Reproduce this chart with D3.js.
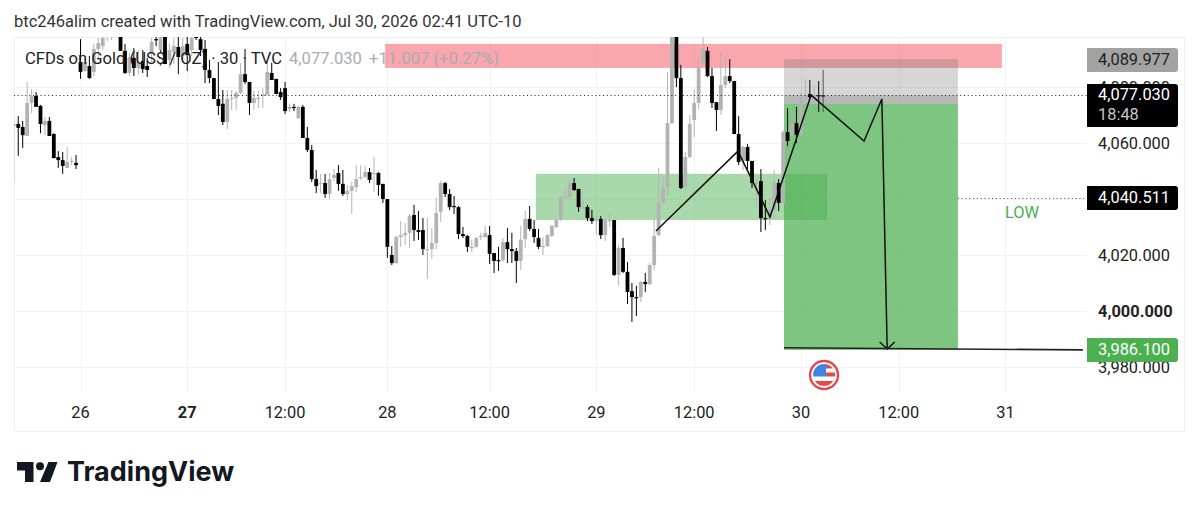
<!DOCTYPE html>
<html>
<head>
<meta charset="utf-8">
<script src="https://cdn.jsdelivr.net/npm/d3@7"></script>
<style>
	html, body { margin: 0; padding: 0; background: #fff; }
	svg { display: block; }
	text { font-family: Roboto, sans-serif; }
</style>
</head>
<body>
<div id="chart"></div>
<script>
var svgWidth = 1199;
var svgHeight = 514;

// Barras de 30 minutos
var barOpen = [
	4066.1,4066.8,4065.7,4062.5,4074.3,4076.8,4073.3,4066.4,4067.9,4063.2,4055.0,4053.9,4051.1,4053.2,4052.9,
	4088.9,4085.7,4087.5,4085.4,4093.6,4094.6,4099.6,4098.6,4099.3,4099.6,4092.9,4085.0,4090.4,4086.8,4089.3,
	4087.5,4091.8,4097.1,4093.2,4097.9,4089.6,4092.5,4094.3,4091.1,4095.4,4093.2,4098.2,4097.1,4093.6,4086.1,
	4083.2,4075.7,4074.0,4067.5,4075.7,4076.1,4077.9,4084.6,4081.8,4074.3,4075.7,4076.8,4077.1,4085.0,4082.9,
	4078.2,4079.6,4072.1,4072.9,4068.9,4072.9,4061.8,4057.5,4047.1,4045.4,4045.7,4041.8,4047.5,4049.3,4045.4,
	4041.8,4042.9,4044.3,4047.5,4047.9,4049.6,4049.0,4049.3,4045.4,4040.0,4020.0,4017.1,4026.4,4027.1,4027.9,
	4034.3,4028.9,4028.9,4021.8,4022.1,4024.3,4035.4,4045.7,4041.8,4037.5,4037.1,4027.5,4026.8,4022.5,4022.9,
	4026.4,4026.4,4027.1,4020.7,4018.2,4018.2,4024.6,4022.1,4021.4,4017.9,4025.7,4032.9,4029.3,4026.1,4022.9,
	4023.2,4026.8,4030.0,4032.9,4040.7,4040.7,4045.7,4043.6,4036.8,4037.1,4033.2,4032.1,4032.9,4027.1,4032.1,
	4032.5,4012.9,4022.5,4014.0,4007.1,4005.0,4005.0,4010.4,4009.6,4016.4,4027.1,4038.6,4044.3,4067.1,4100.4,
	4083.2,4044.3,4055.0,4068.2,4074.3,4088.6,4092.9,4083.9,4074.6,4071.8,4080.7,4083.9,4082.1,4063.2,4053.6,
	4058.6,4053.6,4045.4,4046.4,4033.2,4033.2,4036.1,4045.7,4038.6,4063.9,4063.2,4067.1,4062.9,4076.1,4077.5,
	4076.4,4077.1,4076.8
];
var barHigh = [
	4068.9,4069.6,4067.9,4081.8,4079.3,4078.2,4073.6,4069.3,4069.3,4063.5,4057.1,4056.8,4058.6,4055.0,4055.7,
	4097.1,4090.4,4091.1,4095.4,4097.5,4098.2,4102.1,4102.1,4102.1,4100.4,4095.4,4092.1,4093.9,4093.2,4093.2,
	4090.4,4097.5,4098.9,4098.9,4098.9,4095.4,4097.5,4098.2,4097.5,4098.2,4099.6,4098.9,4098.2,4096.8,4089.6,
	4083.2,4088.9,4078.9,4078.9,4078.9,4078.6,4088.6,4093.6,4081.8,4078.6,4078.9,4079.6,4088.9,4088.6,4082.9,
	4079.6,4081.8,4074.0,4074.0,4073.2,4073.6,4065.7,4059.3,4050.4,4048.9,4048.9,4049.3,4050.7,4052.1,4050.4,
	4045.0,4046.1,4052.1,4052.1,4051.8,4051.1,4055.0,4049.6,4045.4,4040.0,4023.2,4026.8,4032.1,4031.4,4034.6,
	4037.9,4035.7,4033.2,4033.2,4029.6,4040.4,4046.4,4046.1,4043.6,4041.1,4037.5,4030.0,4027.1,4025.4,4026.4,
	4027.9,4030.4,4030.4,4020.7,4022.9,4026.1,4029.6,4027.9,4022.5,4030.4,4035.7,4037.5,4032.5,4029.3,4026.4,
	4027.5,4030.7,4032.9,4041.1,4044.3,4047.1,4047.5,4043.6,4039.6,4037.9,4036.1,4033.9,4033.9,4032.9,4035.7,
	4032.5,4023.6,4026.1,4017.5,4010.0,4009.0,4010.7,4013.6,4017.1,4032.5,4051.1,4047.9,4085.4,4102.1,4102.1,
	4087.9,4056.8,4070.0,4078.9,4090.4,4097.9,4094.3,4086.8,4074.6,4092.5,4090.4,4090.0,4082.1,4069.6,4059.0,
	4059.6,4053.6,4047.5,4050.7,4039.6,4040.4,4050.4,4047.1,4064.6,4072.5,4071.8,4072.9,4078.2,4082.9,4082.5,
	4080.7,4082.1,4086.1
];
var barLow = [
	4046.1,4055.4,4058.2,4062.5,4070.7,4072.9,4063.5,4062.8,4062.5,4054.6,4051.1,4049.0,4051.1,4052.1,4050.7,
	4082.9,4085.4,4082.9,4083.9,4089.6,4093.2,4096.4,4096.8,4098.2,4092.9,4084.6,4083.9,4083.9,4084.6,4085.0,
	4083.6,4088.9,4094.6,4091.8,4088.2,4086.8,4088.2,4084.6,4088.9,4085.7,4091.1,4096.8,4091.1,4081.4,4081.4,
	4075.7,4070.0,4066.4,4065.0,4071.8,4071.8,4077.5,4081.1,4070.0,4071.8,4072.5,4072.5,4077.1,4082.5,4077.5,
	4075.4,4070.4,4071.1,4071.4,4068.6,4061.8,4056.8,4046.1,4042.1,4042.1,4040.4,4040.0,4046.4,4042.9,4041.1,
	4039.6,4034.6,4042.5,4046.8,4047.5,4045.7,4042.5,4041.1,4038.6,4019.0,4016.4,4016.8,4022.9,4023.6,4022.5,
	4025.0,4025.4,4020.0,4011.4,4018.6,4022.1,4031.8,4040.7,4036.1,4034.6,4025.7,4026.1,4021.1,4021.1,4022.5,
	4025.4,4026.1,4016.8,4013.6,4014.3,4017.5,4017.1,4017.1,4010.0,4014.6,4022.5,4028.6,4024.3,4022.1,4020.0,
	4022.9,4026.4,4029.6,4032.1,4040.0,4040.4,4042.9,4035.4,4036.4,4032.1,4031.1,4027.1,4025.7,4025.0,4030.0,
	4012.5,4009.0,4013.6,4002.5,3996.1,3998.2,4003.2,4006.8,4009.3,4014.6,4026.8,4037.9,4041.4,4066.8,4080.0,
	4043.6,4043.2,4054.6,4062.1,4072.1,4088.2,4083.6,4072.5,4064.3,4070.0,4079.6,4081.4,4063.2,4052.1,4050.4,
	4050.7,4043.9,4037.1,4028.2,4028.9,4030.7,4033.2,4035.7,4038.2,4058.9,4062.5,4060.0,4062.5,4075.4,4076.1,
	4074.3,4071.1,4071.1
];
var barClose = [
	4066.8,4065.4,4062.8,4074.3,4076.8,4072.9,4066.8,4067.9,4062.5,4054.6,4053.9,4051.8,4053.2,4053.6,4052.1,
	4085.4,4088.9,4083.2,4093.6,4095.7,4097.5,4100.4,4100.4,4101.1,4092.9,4085.0,4090.7,4086.8,4088.9,4086.4,
	4086.1,4096.1,4096.8,4097.9,4088.2,4093.2,4094.6,4090.7,4094.6,4091.4,4097.5,4097.5,4093.2,4086.1,4083.2,
	4075.7,4073.2,4067.5,4075.7,4076.1,4077.9,4084.6,4081.8,4074.3,4076.1,4076.1,4077.5,4085.4,4082.5,4077.5,
	4076.4,4071.4,4072.9,4072.5,4072.9,4061.8,4057.5,4047.1,4044.6,4045.7,4041.8,4047.1,4048.6,4045.4,4041.8,
	4042.9,4044.6,4047.1,4047.9,4049.6,4046.8,4049.3,4045.0,4040.0,4022.9,4017.1,4026.4,4027.1,4027.9,4033.9,
	4028.9,4028.2,4022.1,4022.1,4024.3,4035.0,4045.7,4041.8,4037.1,4037.1,4027.5,4026.8,4022.9,4022.9,4026.1,
	4026.8,4027.9,4020.4,4017.9,4017.9,4024.6,4022.1,4021.4,4017.9,4025.4,4032.9,4029.3,4026.4,4022.9,4023.2,
	4027.1,4030.4,4032.5,4040.7,4041.1,4045.7,4043.2,4037.1,4037.1,4033.2,4032.1,4032.5,4027.1,4032.5,4032.5,
	4012.9,4022.5,4014.0,4006.8,4005.0,4004.6,4010.4,4009.6,4016.4,4026.8,4038.6,4043.9,4067.1,4100.4,4083.2,
	4043.9,4055.0,4066.8,4074.3,4087.1,4093.6,4083.9,4074.3,4071.8,4080.7,4083.9,4082.1,4063.2,4053.2,4058.6,
	4053.6,4045.7,4045.7,4033.2,4032.9,4036.1,4045.7,4038.6,4063.9,4060.7,4067.1,4062.9,4076.1,4077.1,4076.4,
	4076.8,4076.8,4077.03
];

// Ejes
var gridPrices = [4080, 4060, 4040, 4020, 4000, 3980];
var priceTicks = [4080, 4060, 4020, 4000, 3980];
var timeTickBars = [15, 39, 61, 84, 107, 131, 153, 177, 199, 223];
var timeTickLabels = ["26", "27", "12:00", "28", "12:00", "29", "12:00", "30", "12:00", "31"];

// Etiquetas de precio
var currentPrice = 4077.03;
var stopPrice = 4089.977;
var lowPrice = 4040.511;
var targetPrice = 3986.1;
var entryPrice = 4074.1;

// Dibujos sobre el grafico (barra, precio)
var redZoneBars = [83.5, 222.2];
var redZonePrices = [4095.4, 4086.8];
var greenZoneBars = [117.4, 182.9];
var greenZonePrices = [4049.0, 4032.5];
var positionBars = [173.2, 212.3];
var pathBars = [144.4, 162.85, 170.05, 179.3, 191.2, 195.2, 196.4];
var pathPrices = [4028.6, 4057.1, 4033.6, 4077.1, 4060.7, 4075.7, 3986.4];
var targetLineBars = [173.2, 240.4];
var targetLinePrices = [3986.9, 3986.1];
var eventBar = 182.2;

// Escalas
var x = d3.scaleLinear().domain([0, 100]).range([13.8, 458.5]);
var y = d3.scaleLinear().domain([3980, 4060]).range([367, 143]);

var formatPrice = d3.format(",.3f");

var svg = d3.select("#chart").append("svg")
	.attr("width", svgWidth)
	.attr("height", svgHeight);

svg.append("defs").append("clipPath").attr("id", "plot")
	.append("rect").attr("x", 14).attr("y", 37).attr("width", 1073).attr("height", 355);

svg.append("text").attr("x", 14).attr("y", 27)
	.attr("font-size", 16.5).attr("fill", "#333")
	.text("btc246alim created with TradingView.com, Jul 30, 2026 02:41 UTC-10");

// Marco
svg.append("rect").attr("x", 14.5).attr("y", 37.5).attr("width", 1170).attr("height", 394)
	.attr("fill", "none").attr("stroke", "#eeeff2");

// Grilla
svg.selectAll(".grid-h").data(gridPrices).enter().append("line")
	.attr("x1", 14).attr("x2", 1087)
	.attr("y1", function(d) { return Math.round(y(d)) + 0.5; })
	.attr("y2", function(d) { return Math.round(y(d)) + 0.5; })
	.attr("stroke", "#f1f2f5");
svg.selectAll(".grid-v").data(timeTickBars).enter().append("line")
	.attr("y1", 37).attr("y2", 392)
	.attr("x1", function(d) { return Math.round(x(d)) + 0.5; })
	.attr("x2", function(d) { return Math.round(x(d)) + 0.5; })
	.attr("stroke", "#f1f2f5");

var plot = svg.append("g").attr("clip-path", "url(#plot)");

// Zonas
function zona(bars, prices, color) {
	plot.append("rect")
		.attr("x", x(bars[0]))
		.attr("width", x(bars[1]) - x(bars[0]))
		.attr("y", y(prices[0]))
		.attr("height", y(prices[1]) - y(prices[0]))
		.attr("fill", color);
}
zona(redZoneBars, redZonePrices, "rgba(242,54,69,0.44)");
zona(greenZoneBars, greenZonePrices, "rgba(76,175,80,0.48)");
zona(positionBars, [stopPrice, entryPrice], "rgba(120,120,120,0.3)");
zona(positionBars, [entryPrice, targetPrice], "rgba(76,175,80,0.72)");
zona(positionBars, [currentPrice, entryPrice], "rgba(120,120,120,0.32)");

// Velas
var indices = d3.range(barOpen.length);
function colorVela(i) { return barClose[i] >= barOpen[i] ? "#b3b3b3" : "#000"; }

plot.selectAll(".wick").data(indices).enter().append("line")
	.attr("x1", function(i) { return x(i); })
	.attr("x2", function(i) { return x(i); })
	.attr("y1", function(i) { return y(barHigh[i]); })
	.attr("y2", function(i) { return y(barLow[i]); })
	.attr("stroke", function(i) { return i == barOpen.length - 1 ? "#555" : colorVela(i); })
	.attr("stroke-width", 1);

plot.selectAll(".body").data(indices).enter().append("rect")
	.attr("x", function(i) { return x(i) - 1.9; })
	.attr("width", 3.8)
	.attr("y", function(i) { return y(Math.max(barOpen[i], barClose[i])); })
	.attr("height", function(i) { return Math.max(1.2, Math.abs(y(barOpen[i]) - y(barClose[i]))); })
	.attr("fill", function(i) { return i == barOpen.length - 1 ? "#111" : colorVela(i); });

// Lineas punteadas
svg.append("line")
	.attr("x1", 14).attr("x2", 1087)
	.attr("y1", Math.round(y(currentPrice)) + 0.5).attr("y2", Math.round(y(currentPrice)) + 0.5)
	.attr("stroke", "#222").attr("stroke-dasharray", "1,2.8");
svg.append("line")
	.attr("x1", x(positionBars[1])).attr("x2", 1087)
	.attr("y1", Math.round(y(lowPrice)) + 0.5).attr("y2", Math.round(y(lowPrice)) + 0.5)
	.attr("stroke", "#444").attr("stroke-dasharray", "1,2.8");

// Trayectoria dibujada y flecha
var linea = d3.line()
	.x(function(d) { return x(pathBars[d]); })
	.y(function(d) { return y(pathPrices[d]); });
svg.append("path")
	.attr("d", linea(d3.range(pathBars.length)))
	.attr("fill", "none").attr("stroke", "#111").attr("stroke-width", 1.5);

var tipX = x(pathBars[pathBars.length - 1]);
var tipY = y(pathPrices[pathPrices.length - 1]);
svg.append("path")
	.attr("d", "M" + (tipX - 7.5) + "," + (tipY - 7) + "L" + tipX + "," + tipY + "L" + (tipX + 7.5) + "," + (tipY - 7))
	.attr("fill", "none").attr("stroke", "#111").attr("stroke-width", 1.4);

svg.append("line")
	.attr("x1", x(targetLineBars[0])).attr("x2", x(targetLineBars[1]))
	.attr("y1", y(targetLinePrices[0])).attr("y2", y(targetLinePrices[1]))
	.attr("stroke", "#222").attr("stroke-width", 1.6);

svg.append("text").attr("x", 1005).attr("y", 218)
	.attr("font-size", 16.4).attr("fill", "#4caf50").text("LOW");

// Leyenda
var leyenda = svg.append("text").attr("x", 25).attr("y", 64).attr("font-size", 16.6);
leyenda.append("tspan").attr("fill", "#222").text("CFDs on Gold (US$ / OZ) · 30 · TVC");
leyenda.append("tspan").attr("x", 289).attr("fill", "#a9abb2").text(formatPrice(currentPrice));
leyenda.append("tspan").attr("x", 369).attr("fill", "#a9abb2").text("+11.007 (+0.27%)");

// Etiquetas de ejes
svg.selectAll(".price-label").data(priceTicks).enter().append("text")
	.attr("x", 1098)
	.attr("y", function(d) { return y(d) + 6; })
	.attr("font-size", 16.4)
	.attr("font-weight", function(d) { return d == 4000 ? 700 : 400; })
	.attr("fill", "#222")
	.text(function(d) { return formatPrice(d); });

svg.selectAll(".time-label").data(timeTickBars).enter().append("text")
	.attr("x", function(d) { return x(d); })
	.attr("y", 418)
	.attr("text-anchor", "middle")
	.attr("font-size", 16.4)
	.attr("font-weight", function(d, i) { return timeTickLabels[i] == "27" ? 700 : 400; })
	.attr("fill", "#222")
	.text(function(d, i) { return timeTickLabels[i]; });

// Etiquetas con fondo
function etiqueta(y0, h, color) {
	var w = 91, r = 3, x0 = 1087;
	svg.append("path")
		.attr("d", "M" + x0 + "," + y0 + "H" + (x0 + w - r) + "q" + r + ",0 " + r + "," + r +
			"V" + (y0 + h - r) + "q0," + r + " " + (-r) + "," + r + "H" + x0 + "Z")
		.attr("fill", color);
}
function textoEtiqueta(yText, txt, color) {
	svg.append("text").attr("x", 1098).attr("y", yText)
		.attr("font-size", 16.4).attr("fill", color).text(txt);
}
etiqueta(48, 24, "#a3a3a3");
textoEtiqueta(y(stopPrice) + 6, formatPrice(stopPrice), "#222");
etiqueta(84, 43, "#000");
textoEtiqueta(y(currentPrice) + 5, formatPrice(currentPrice), "#fff");
textoEtiqueta(120, "18:48", "#c4c4c4");
etiqueta(186, 24, "#000");
textoEtiqueta(y(lowPrice) + 5, formatPrice(lowPrice), "#fff");
etiqueta(338, 24, "#4caf50");
textoEtiqueta(y(targetPrice) + 5, formatPrice(targetPrice), "#fff");

// Bandera de evento
var flag = svg.append("g").attr("transform", "translate(" + x(eventBar) + ",375)");
flag.append("clipPath").attr("id", "flag-clip").append("circle").attr("r", 11);
flag.append("circle").attr("r", 14).attr("fill", "#fff").attr("stroke", "#e04b4f").attr("stroke-width", 2.4);
var flagInner = flag.append("g").attr("clip-path", "url(#flag-clip)");
flagInner.append("rect").attr("x", -11).attr("y", -11).attr("width", 22).attr("height", 22).attr("fill", "#fff");
flagInner.append("rect").attr("x", 2).attr("y", -11).attr("width", 9).attr("height", 4.5).attr("fill", "#e04b4f");
flagInner.append("rect").attr("x", 2).attr("y", -2.5).attr("width", 9).attr("height", 4).attr("fill", "#e04b4f");
flagInner.append("rect").attr("x", -11).attr("y", 6).attr("width", 22).attr("height", 5).attr("fill", "#e04b4f");
flagInner.append("rect").attr("x", -11).attr("y", -11).attr("width", 13).attr("height", 12.5).attr("fill", "#3f83e6");

// Logo
svg.append("path").attr("d", "M17,462H33.5V482H25V470.5H17Z").attr("fill", "#131722");
svg.append("circle").attr("cx", 40).attr("cy", 466.2).attr("r", 4).attr("fill", "#131722");
svg.append("path").attr("d", "M48.5,462H57.5L50,482H40Z").attr("fill", "#131722");
svg.append("text").attr("x", 67).attr("y", 481)
	.style("font-family", "Inter, sans-serif")
	.attr("font-size", 27).attr("font-weight", 700).attr("fill", "#131722")
	.text("TradingView");
</script>
</body>
</html>
